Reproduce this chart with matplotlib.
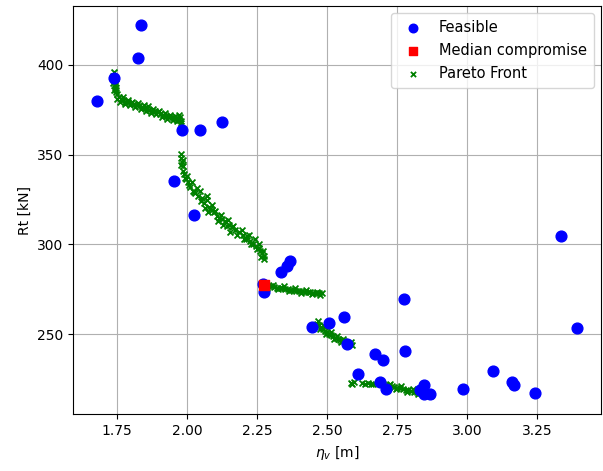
import matplotlib
matplotlib.use("Agg")
import matplotlib.pyplot as plt

# Feasible designs
feas_x = [1.680, 1.741, 1.825, 1.836, 1.983, 2.048, 2.125, 1.954, 2.025,
          2.335, 2.358, 2.368, 2.271, 2.273, 2.447, 2.508, 2.561, 2.572,
          2.671, 2.698, 2.779, 2.610, 2.688, 2.710, 2.846, 2.830, 2.845,
          2.865, 2.985, 3.092, 3.161, 3.166, 3.240, 3.335, 3.391, 2.774]
feas_y = [380.0, 392.4, 404.0, 422.3, 363.5, 363.5, 368.3, 335.4, 316.3,
          284.8, 288.0, 290.7, 278.2, 273.8, 253.8, 256.1, 259.6, 244.6,
          239.0, 235.6, 240.6, 227.8, 223.5, 219.5, 221.7, 219.0, 216.7,
          216.7, 219.3, 229.8, 223.6, 221.8, 217.5, 304.6, 253.3, 269.4]

# Median compromise
med_x = [2.275]
med_y = [277.4]

# Pareto front
par_x = [1.738, 1.740, 1.741, 1.742, 1.744, 1.746, 1.750, 1.757, 1.765, 1.772,
         1.780, 1.790, 1.800, 1.810, 1.820, 1.830, 1.840, 1.850, 1.858, 1.866,
         1.875, 1.885, 1.895, 1.905, 1.915, 1.925, 1.935, 1.945, 1.955, 1.962,
         1.970, 1.976, 1.980,
         1.735, 1.737, 1.739, 1.745, 1.748, 1.752, 1.760, 1.770, 1.778, 1.788,
         1.795, 1.805, 1.815, 1.825, 1.835, 1.845, 1.855, 1.862, 1.872, 1.880,
         1.890, 1.900, 1.910, 1.920, 1.930, 1.940, 1.950, 1.958, 1.966, 1.973,
         1.978,
         1.980, 1.978, 1.982, 1.984, 1.986, 1.990, 1.995, 2.003, 2.012, 2.020,
         2.030, 2.040, 2.053, 2.060, 2.071, 2.078, 2.083, 2.095, 2.107, 2.115,
         2.125, 2.136, 2.150, 2.160, 2.172, 2.185, 2.200, 2.214, 2.225, 2.237,
         2.245, 2.255, 2.261, 2.268, 2.273, 2.035, 2.065, 2.090, 2.142, 2.205,
         1.985, 1.979, 1.992, 2.000, 2.008, 2.018, 2.025, 2.045, 2.050, 2.070,
         2.075, 2.090, 2.100, 2.112, 2.120, 2.130, 2.145, 2.155, 2.165, 2.180,
         2.195, 2.210, 2.220, 2.230, 2.242, 2.250, 2.258, 2.265, 2.270, 2.276,
         2.280, 2.290, 2.300, 2.310, 2.320, 2.330, 2.340, 2.350, 2.360, 2.370,
         2.380, 2.390, 2.400, 2.410, 2.420, 2.430, 2.440, 2.450, 2.460, 2.470,
         2.480,
         2.285, 2.305, 2.325, 2.345, 2.365, 2.385, 2.405, 2.425, 2.445, 2.465,
         2.475,
         2.462, 2.470, 2.478, 2.485, 2.492, 2.500, 2.508, 2.515, 2.522, 2.530,
         2.538, 2.545, 2.552, 2.560, 2.567, 2.575, 2.582, 2.590,
         2.466, 2.474, 2.488, 2.496, 2.512, 2.526, 2.534, 2.549, 2.556, 2.571,
         2.586,
         2.585, 2.590, 2.595, 2.625, 2.635, 2.645, 2.655, 2.662,
         2.700, 2.710, 2.720, 2.730, 2.740, 2.750, 2.760, 2.770, 2.780, 2.790,
         2.800, 2.810, 2.820, 2.830, 2.840, 2.850, 2.860, 2.870,
         2.705, 2.725, 2.745, 2.765, 2.785, 2.805, 2.825, 2.845, 2.865]
par_y = [396.0, 393.0, 391.0, 389.0, 387.0, 385.0, 383.5, 382.0, 381.0, 380.5,
         379.5, 379.0, 378.5, 378.0, 377.5, 377.0, 376.5, 376.0, 375.8, 375.0,
         374.5, 374.0, 373.5, 372.8, 372.0, 371.5, 371.0, 370.8, 370.5, 370.0,
         369.5, 371.0, 368.5,
         394.0, 390.0, 386.0, 390.0, 386.0, 381.0, 379.5, 382.0, 378.0, 380.5,
         377.5, 379.5, 376.5, 378.5, 375.5, 377.5, 374.5, 376.8, 373.3, 375.5,
         372.5, 374.5, 371.0, 373.0, 370.0, 372.0, 369.5, 371.5, 368.8, 372.0,
         367.5,
         350.5, 348.0, 346.0, 343.5, 341.0, 339.0, 336.5, 334.5, 332.0, 330.0,
         328.5, 327.0, 326.0, 323.0, 325.0, 321.0, 319.5, 318.0, 315.7, 314.5,
         314.0, 313.0, 311.0, 309.5, 308.3, 307.0, 305.5, 304.6, 302.0, 300.0,
         299.0, 298.0, 296.5, 295.0, 293.5, 331.5, 320.5, 322.0, 310.5, 303.0,
         347.0, 344.0, 337.0, 338.0, 333.0, 335.0, 329.0, 329.5, 324.0, 327.0,
         318.0, 319.0, 318.5, 313.0, 316.5, 311.0, 313.5, 307.0, 310.5, 305.0,
         308.0, 303.0, 305.5, 300.5, 303.0, 297.5, 300.0, 293.0, 296.5, 292.0,
         277.2, 277.0, 276.6, 276.4, 276.0, 275.7, 275.8, 275.2, 275.0, 274.8,
         274.5, 274.3, 274.0, 274.2, 273.6, 273.5, 273.3, 273.2, 273.0, 272.8,
         272.9,
         276.0, 277.5, 275.0, 276.7, 274.0, 275.6, 273.2, 274.5, 272.5, 273.8,
         272.0,
         256.0, 255.0, 254.0, 253.0, 252.0, 251.0, 250.0, 249.5, 248.8, 248.0,
         247.5, 247.0, 246.5, 246.0, 245.5, 245.0, 244.5, 244.2,
         257.5, 253.0, 254.5, 250.0, 251.5, 247.2, 249.0, 245.7, 247.5, 244.0,
         245.5,
         223.0, 222.5, 223.5, 223.0, 222.5, 223.0, 222.3, 222.5,
         222.5, 222.0, 221.5, 221.0, 220.8, 220.3, 220.0, 219.5, 219.2, 218.8,
         218.4, 218.0, 217.7, 217.3, 217.0, 216.7, 216.4, 216.2,
         221.0, 222.2, 219.5, 221.0, 218.0, 219.4, 216.5, 218.0, 215.8]

fig = plt.figure(figsize=(6.03, 4.71), dpi=100)
ax = fig.add_axes([0.1216, 0.1204, 0.875, 0.8666])

ax.scatter(feas_x, feas_y, s=60, c="blue", marker="o", label="Feasible", zorder=3)
ax.scatter(med_x, med_y, s=55, c="red", marker="s", label="Median compromise", zorder=4)
ax.scatter(par_x, par_y, s=18, c="green", marker="x", linewidths=1.3,
           label="Pareto Front", zorder=2)

ax.set_xlabel(r"$\eta_v$ [m]")
ax.set_ylabel("Rt [kN]")
ax.grid(True)
ax.set_axisbelow(True)
leg = ax.legend(loc="upper right", fontsize=10.5, borderpad=0.5,
                labelspacing=0.55, borderaxespad=0.45)
for h, sz in zip(leg.legend_handles, [38, 33, 14]):
    h.set_sizes([sz])

fig.savefig("out.png", dpi=100)
